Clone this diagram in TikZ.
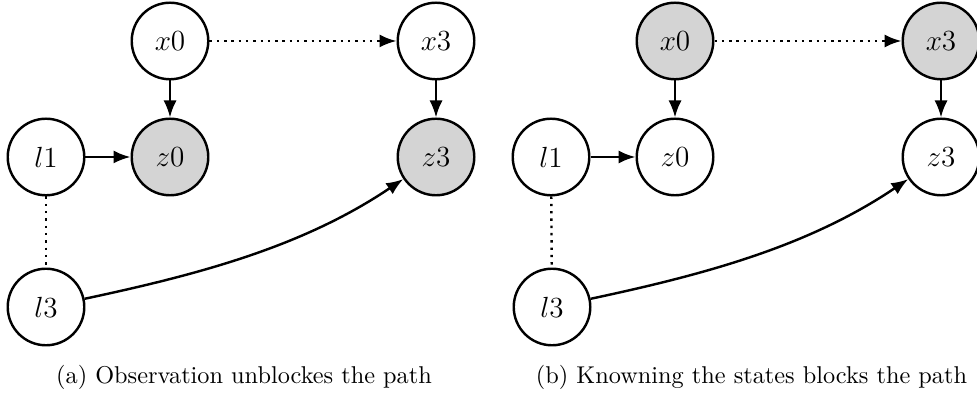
\documentclass[tikz,border=0pt]{standalone}
\usetikzlibrary{arrows.meta}
\tikzset{
  var/.style={circle, draw, line width=1pt, minimum size=31.5pt, inner sep=0pt, font=\large},
  obs/.style={var, fill=black!17},
  edge/.style={line width=1pt, -{Latex[length=7pt,width=5.4pt]}},
  dotedge/.style={edge, dotted},
  dotlink/.style={line width=1pt, dotted},
  capt/.style={anchor=base, font=\normalsize}
}
\begin{document}
\begin{tikzpicture}[x=0.4115pt, y=-0.4115pt]
  \useasboundingbox (0,0) rectangle (977,398);

  % left panel: the observed z nodes
  \node[var] (ax0) at (170,41) {$x0$};
  \node[var] (ax3) at (436,41) {$x3$};
  \node[obs] (az0) at (170,157) {$z0$};
  \node[obs] (az3) at (436,157) {$z3$};
  \node[var] (al1) at (46,157) {$l1$};
  \node[var] (al3) at (46,307) {$l3$};
  \draw[dotedge] (ax0) -- (ax3);
  \draw[edge] (ax0) -- (az0);
  \draw[edge] (ax3) -- (az3);
  \draw[edge] (al1) -- (az0);
  \draw[dotlink] (al1) -- (al3);
  \draw[edge] (al3) to[out=12, in=-146, looseness=0.9] (az3);
  \node[capt] (capa) at (244,384) {(a) Observation unblockes the path};

  % right panel: the observed x nodes
  \node[obs] (bx0) at (675,41) {$x0$};
  \node[obs] (bx3) at (941,41) {$x3$};
  \node[var] (bz0) at (675,157) {$z0$};
  \node[var] (bz3) at (941,157) {$z3$};
  \node[var] (bl1) at (551,157) {$l1$};
  \node[var] (bl3) at (552,307) {$l3$};
  \draw[dotedge] (bx0) -- (bx3);
  \draw[edge] (bx0) -- (bz0);
  \draw[edge] (bx3) -- (bz3);
  \draw[edge] (bl1) -- (bz0);
  \draw[dotlink] (bl1) -- (bl3);
  \draw[edge] (bl3) to[out=12, in=-146, looseness=0.9] (bz3);
  \node[capt] (capb) at (751.5,384) {(b) Knowning the states blocks the path};
\end{tikzpicture}
\end{document}
